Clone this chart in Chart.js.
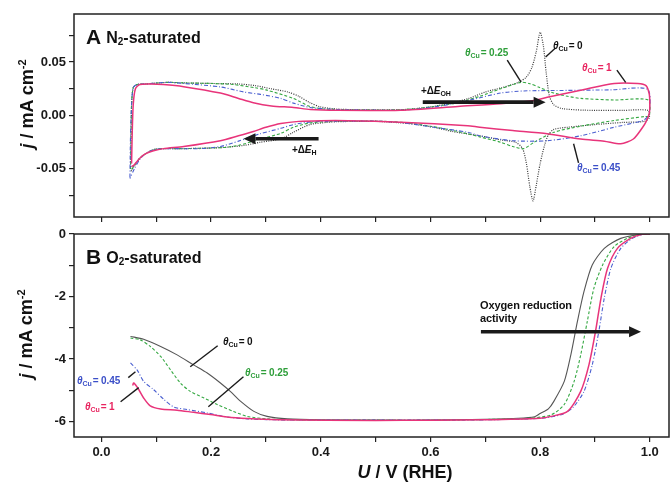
<!DOCTYPE html>
<html>
<head>
<meta charset="utf-8">
<script src="https://cdn.jsdelivr.net/npm/chart.js@4/dist/chart.umd.min.js"></script>
<style>
  html, body { margin: 0; padding: 0; background: #fff; }
  #wrap { position: relative; width: 671px; height: 482px; overflow: hidden; background: #fff; }
  canvas { position: absolute; left: 0; }
  #cvTop { top: 0; }
  #cvBot { top: 220px; }
  .t { position: absolute; white-space: nowrap; line-height: 1; transform: translateY(-50%);
       font-family: "Liberation Sans", Arial, sans-serif; font-weight: bold; color: #111; }
  .lab { font-size: 10px; letter-spacing: -0.1px; }
  .lab i, .ax i { font-style: italic; }
  .lab .s { font-size: 7px; position: relative; top: 2px; margin-right: 1px; }
  .panel { font-size: 16px; }
  .panel .big { font-size: 21px; margin-right: 5px; position: relative; top: 1px; }
  .panel sub { font-size: 10px; vertical-align: -2px; line-height: 0; }
  .ax { font-size: 18px; }
  .ax sup { font-size: 11px; vertical-align: 7px; line-height: 0; }
  .ytitle { transform: translate(-50%, -50%) rotate(-90deg); }
  .xtitle { transform: translate(-50%, -50%); }
  .k { color: #111; }
  .g { color: #2e9e3a; }
  .b { color: #3b4fc8; }
  .p { color: #e8245f; }
</style>
</head>
<body>
<div id="wrap">
  <canvas id="cvTop" width="671" height="232"></canvas>
  <canvas id="cvBot" width="671" height="262"></canvas>

  <!-- panel A -->
  <div class="t panel" style="left:86px; top:35px;"><span class="big">A</span>N<sub>2</sub>-saturated</div>
  <div class="t lab k" style="left:553px; top:46px;"><i>θ</i><span class="s">Cu</span>= 0</div>
  <div class="t lab g" style="left:465px; top:53px;"><i>θ</i><span class="s">Cu</span>= 0.25</div>
  <div class="t lab p" style="left:582px; top:68px;"><i>θ</i><span class="s">Cu</span>= 1</div>
  <div class="t lab b" style="left:577px; top:168px;"><i>θ</i><span class="s">Cu</span>= 0.45</div>
  <div class="t lab k" style="left:421px; top:91px;">+Δ<i>E</i><span class="s">OH</span></div>
  <div class="t lab k" style="left:292px; top:150px;">+Δ<i>E</i><span class="s">H</span></div>

  <!-- panel B -->
  <div class="t panel" style="left:86px; top:255px;"><span class="big">B</span>O<sub>2</sub>-saturated</div>
  <div class="t lab k" style="left:223px; top:342px;"><i>θ</i><span class="s">Cu</span>= 0</div>
  <div class="t lab g" style="left:245px; top:373px;"><i>θ</i><span class="s">Cu</span>= 0.25</div>
  <div class="t lab b" style="left:77px; top:381px;"><i>θ</i><span class="s">Cu</span>= 0.45</div>
  <div class="t lab p" style="left:85px; top:407px;"><i>θ</i><span class="s">Cu</span>= 1</div>
  <div class="t lab k" style="left:480px; top:305px; font-size:11px;">Oxygen reduction</div>
  <div class="t lab k" style="left:480px; top:318px; font-size:11px;">activity</div>

  <!-- axis titles -->
  <div class="t ax ytitle" style="left:27px; top:104px;"><i>j</i> / mA cm<sup>-2</sup></div>
  <div class="t ax ytitle" style="left:26px; top:334px;"><i>j</i> / mA cm<sup>-2</sup></div>
  <div class="t ax xtitle" style="left:405px; top:472px;"><i>U</i> / V (RHE)</div>
</div>

<script>
// ---- Cyclic voltammograms in N2 (potential in V vs RHE, current in mA cm^-2) ----
// each loop: anodic sweep 0.05 -> 1.0 V, then cathodic sweep back to 0.05 V
const cvU_Cu0 = [0.053,0.054,0.055,0.058,0.065,0.08,0.12,0.15,0.2,0.25,0.28,0.31,0.34,0.36,0.38,0.40,0.43,0.5,0.55,0.6,0.64,0.67,0.70,0.73,0.76,0.775,0.785,0.793,0.800,0.806,0.811,0.817,0.825,0.84,0.88,0.95,0.997,
                 0.999,0.99,0.95,0.90,0.85,0.825,0.815,0.808,0.800,0.793,0.787,0.781,0.775,0.768,0.755,0.73,0.69,0.64,0.606,0.56,0.5,0.43,0.41,0.38,0.35,0.327,0.29,0.26,0.22,0.15,0.11,0.095,0.08,0.07,0.06,0.053];
const cvJ_Cu0 = [-0.050,-0.020,0.010,0.026,0.029,0.0295,0.031,0.0305,0.030,0.0295,0.028,0.025,0.022,0.018,0.012,0.008,0.006,0.0052,0.0055,0.008,0.012,0.016,0.022,0.026,0.031,0.036,0.045,0.060,0.078,0.065,0.040,0.018,0.010,0.0065,0.005,0.0048,0.0048,
                 -0.002,-0.0055,-0.0065,-0.0085,-0.011,-0.013,-0.018,-0.028,-0.045,-0.065,-0.080,-0.066,-0.045,-0.031,-0.025,-0.023,-0.019,-0.015,-0.011,-0.0075,-0.0055,-0.0058,-0.0065,-0.0085,-0.0157,-0.022,-0.025,-0.028,-0.030,-0.031,-0.031,-0.032,-0.036,-0.040,-0.047,-0.053];

const cvU_Cu025 = [0.053,0.054,0.055,0.058,0.065,0.08,0.12,0.15,0.2,0.24,0.28,0.30,0.35,0.38,0.41,0.5,0.55,0.6,0.65,0.69,0.728,0.765,0.78,0.80,0.825,0.85,0.874,0.935,0.997,
                   0.999,0.99,0.935,0.874,0.825,0.789,0.77,0.75,0.728,0.69,0.65,0.6,0.55,0.5,0.41,0.38,0.35,0.327,0.29,0.25,0.22,0.15,0.11,0.095,0.08,0.07,0.06,0.053];
const cvJ_Cu025 = [-0.050,-0.020,0.010,0.026,0.029,0.0295,0.031,0.0305,0.030,0.029,0.026,0.024,0.016,0.0085,0.006,0.0052,0.0055,0.008,0.012,0.018,0.025,0.031,0.030,0.026,0.021,0.018,0.016,0.0145,0.0145,
                   -0.0005,-0.001,-0.0047,-0.010,-0.0157,-0.025,-0.031,-0.029,-0.025,-0.020,-0.015,-0.010,-0.0065,-0.0053,-0.0058,-0.007,-0.011,-0.0167,-0.022,-0.028,-0.030,-0.031,-0.031,-0.032,-0.036,-0.040,-0.047,-0.052];

const cvU_Cu045 = [0.052,0.053,0.055,0.058,0.065,0.08,0.12,0.15,0.217,0.26,0.29,0.327,0.35,0.381,0.42,0.5,0.546,0.606,0.668,0.728,0.77,0.85,0.93,0.996,
                   0.999,0.99,0.97,0.935,0.874,0.813,0.75,0.69,0.668,0.606,0.546,0.5,0.41,0.381,0.35,0.327,0.29,0.25,0.217,0.18,0.12,0.095,0.08,0.07,0.06,0.052];
const cvJ_Cu045 = [-0.058,-0.020,0.010,0.026,0.029,0.0295,0.031,0.030,0.0267,0.022,0.0198,0.016,0.0116,0.0075,0.0058,0.005,0.005,0.0078,0.014,0.021,0.023,0.0235,0.024,0.0245,
                   0.002,-0.004,-0.007,-0.011,-0.019,-0.0236,-0.0236,-0.019,-0.0157,-0.011,-0.0066,-0.0053,-0.0055,-0.006,-0.0085,-0.012,-0.017,-0.024,-0.029,-0.031,-0.031,-0.032,-0.036,-0.041,-0.050,-0.059];

const cvU_Cu1 = [0.055,0.056,0.058,0.062,0.07,0.09,0.113,0.15,0.217,0.25,0.277,0.31,0.35,0.381,0.43,0.546,0.65,0.728,0.789,0.813,0.874,0.935,0.978,0.993,0.999,1.0,
                 0.999,0.993,0.987,0.97,0.947,0.917,0.874,0.813,0.75,0.69,0.668,0.546,0.45,0.40,0.36,0.327,0.30,0.277,0.25,0.217,0.15,0.113,0.095,0.08,0.07,0.06,0.055];
const cvJ_Cu1 = [-0.045,-0.020,0.010,0.025,0.029,0.0295,0.029,0.027,0.021,0.016,0.012,0.009,0.0075,0.0056,0.0048,0.005,0.0085,0.011,0.014,0.017,0.0236,0.030,0.030,0.028,0.020,0.010,
                 0.002,-0.006,-0.011,-0.022,-0.0265,-0.024,-0.022,-0.017,-0.014,-0.011,-0.0095,-0.0063,-0.0048,-0.0048,-0.0055,-0.0075,-0.011,-0.015,-0.019,-0.0236,-0.029,-0.031,-0.033,-0.036,-0.040,-0.046,-0.048];

// ---- Polarization curves in O2 (anodic sweep) ----
const lsvU_Cu0 = [0.053,0.077,0.108,0.138,0.168,0.193,0.217,0.235,0.254,0.278,0.302,0.339,0.40,0.5,0.6,0.7,0.76,0.79,0.80,0.815,0.825,0.844,0.856,0.868,0.880,0.895,0.917,0.947,0.984,1.0];
const lsvJ_Cu0 = [-3.28,-3.37,-3.60,-3.87,-4.19,-4.45,-4.77,-5.04,-5.36,-5.68,-5.84,-5.92,-5.95,-5.96,-5.96,-5.93,-5.90,-5.85,-5.75,-5.60,-5.36,-4.72,-3.87,-2.80,-1.84,-0.99,-0.46,-0.14,-0.01,0];

const lsvU_Cu025 = [0.053,0.071,0.089,0.108,0.126,0.144,0.162,0.187,0.211,0.241,0.266,0.302,0.35,0.5,0.6,0.7,0.78,0.82,0.844,0.862,0.874,0.886,0.898,0.914,0.935,0.959,0.984,1.0];
const lsvJ_Cu025 = [-3.33,-3.39,-3.60,-3.92,-4.35,-4.77,-5.04,-5.25,-5.46,-5.68,-5.84,-5.92,-5.95,-5.96,-5.96,-5.94,-5.90,-5.79,-5.46,-4.72,-3.87,-2.80,-1.74,-0.99,-0.40,-0.14,-0.01,0];

const lsvU_Cu045 = [0.053,0.065,0.077,0.095,0.114,0.132,0.156,0.193,0.229,0.266,0.32,0.5,0.6,0.7,0.8,0.84,0.86,0.880,0.895,0.907,0.917,0.929,0.947,0.968,0.988,1.0];
const lsvJ_Cu045 = [-4.13,-4.35,-4.72,-4.98,-5.30,-5.54,-5.62,-5.73,-5.86,-5.92,-5.95,-5.96,-5.96,-5.95,-5.90,-5.78,-5.55,-5.04,-4.19,-3.12,-2.05,-1.10,-0.46,-0.14,-0.01,0];

const lsvU_Cu1 = [0.057,0.059,0.068,0.077,0.089,0.108,0.138,0.168,0.199,0.229,0.266,0.32,0.5,0.6,0.7,0.8,0.82,0.85,0.874,0.889,0.901,0.911,0.923,0.941,0.965,0.986,1.0];
const lsvJ_Cu1 = [-4.85,-4.77,-4.98,-5.25,-5.50,-5.60,-5.64,-5.71,-5.78,-5.86,-5.91,-5.95,-5.97,-5.96,-5.95,-5.90,-5.84,-5.68,-5.04,-4.19,-3.12,-2.05,-1.10,-0.46,-0.14,-0.01,0];

// series names and styles
const seriesNames = ['θCu = 1', 'θCu = 0.45', 'θCu = 0.25', 'θCu = 0'];

const FONT = '"Liberation Sans", Arial, sans-serif';
const INK = '#1a1a1a';

function zip(us, js) { return us.map((u, i) => ({ x: u, y: js[i] })); }

const styles = {
  one:  { borderColor: '#e8347a', borderWidth: 1.5, borderDash: [] },
  c045: { borderColor: '#4a5fd0', borderWidth: 1.1, borderDash: [4, 2, 1, 2] },
  c025: { borderColor: '#35a842', borderWidth: 1.1, borderDash: [3, 2] },
  zero: { borderColor: '#3a3a3a', borderWidth: 1.2, borderDash: [1, 1.3] }
};

function ds(label, data, st, extra) {
  return Object.assign({
    label, data, showLine: true, pointRadius: 0, tension: 0.25, fill: false
  }, st, extra || {});
}

function isMultiple(v, step) { const r = v / step; return Math.abs(r - Math.round(r)) < 1e-6; }

function arrow(ctx, x1, y1, x2, y2) {
  const ang = Math.atan2(y2 - y1, x2 - x1);
  const hl = 12, hw = 5.5;
  const bx = x2 - hl * Math.cos(ang), by = y2 - hl * Math.sin(ang);
  ctx.save();
  ctx.strokeStyle = INK; ctx.fillStyle = INK; ctx.lineWidth = 3.6; ctx.lineCap = 'butt';
  ctx.beginPath(); ctx.moveTo(x1, y1); ctx.lineTo(bx, by); ctx.stroke();
  ctx.beginPath();
  ctx.moveTo(x2, y2);
  ctx.lineTo(bx + hw * Math.sin(ang), by - hw * Math.cos(ang));
  ctx.lineTo(bx - hw * Math.sin(ang), by + hw * Math.cos(ang));
  ctx.closePath(); ctx.fill();
  ctx.restore();
}

// frame, leader lines and arrows, positioned in data coordinates
function decorPlugin(arrows, leaders) {
  return {
    id: 'decor',
    afterDraw(chart) {
      const { ctx, chartArea: a, scales: { x, y } } = chart;
      ctx.save();
      ctx.strokeStyle = '#222'; ctx.lineWidth = 1.5;
      ctx.strokeRect(a.left, a.top, a.right - a.left, a.bottom - a.top);
      ctx.strokeStyle = INK; ctx.lineWidth = 1.4;
      leaders.forEach(l => {
        ctx.beginPath();
        ctx.moveTo(x.getPixelForValue(l[0]), y.getPixelForValue(l[1]));
        ctx.lineTo(x.getPixelForValue(l[2]), y.getPixelForValue(l[3]));
        ctx.stroke();
      });
      ctx.restore();
      arrows.forEach(r => arrow(ctx,
        x.getPixelForValue(r[0]), y.getPixelForValue(r[1]),
        x.getPixelForValue(r[2]), y.getPixelForValue(r[3])));
    }
  };
}

function xScale(showLabels, axisHeight) {
  return {
    type: 'linear', min: -0.05, max: 1.035,
    afterFit(s) { s.height = axisHeight; },
    border: { display: false },
    grid: { drawOnChartArea: false, drawTicks: true, tickLength: 5, tickColor: '#222', lineWidth: 1.2 },
    ticks: {
      stepSize: 0.1, includeBounds: false, autoSkip: false, maxRotation: 0, padding: 3,
      color: INK, font: { family: FONT, size: 13, weight: 'bold' },
      callback: v => (showLabels && isMultiple(v, 0.2)) ? v.toFixed(1) : ''
    }
  };
}

function yScale(min, max, step, labelStep, digits) {
  return {
    type: 'linear', min, max,
    afterFit(s) { s.width = 74; },
    border: { display: false },
    grid: { drawOnChartArea: false, drawTicks: true, tickLength: 5, tickColor: '#222', lineWidth: 1.2 },
    ticks: {
      stepSize: step, includeBounds: false, autoSkip: false, padding: 3,
      color: INK, font: { family: FONT, size: 13, weight: 'bold' },
      callback: v => {
        if (!isMultiple(v, labelStep)) return '';
        const t = (Math.abs(v) < 1e-9 ? 0 : v).toFixed(digits);
        return t;
      }
    }
  };
}

const common = {
  responsive: false, animation: false, devicePixelRatio: 1,
  plugins: { legend: { display: false }, tooltip: { enabled: false } },
  elements: { line: { capBezierPoints: true } }
};

// Panel A: cyclic voltammograms
new Chart(document.getElementById('cvTop'), {
  type: 'scatter',
  data: {
    datasets: [
      ds(seriesNames[0], zip(cvU_Cu1, cvJ_Cu1), styles.one),
      ds(seriesNames[1], zip(cvU_Cu045, cvJ_Cu045), styles.c045),
      ds(seriesNames[2], zip(cvU_Cu025, cvJ_Cu025), styles.c025),
      ds(seriesNames[3], zip(cvU_Cu0, cvJ_Cu0), styles.zero)
    ]
  },
  options: Object.assign({}, common, {
    layout: { padding: { top: 14, right: 2, left: 0, bottom: 0 } },
    scales: {
      x: xScale(false, 15),
      y: yScale(-0.095, 0.095, 0.025, 0.05, 2)
    }
  }),
  plugins: [decorPlugin(
    [[0.586, 0.0125, 0.810, 0.0125], [0.396, -0.0217, 0.259, -0.0217]],
    [[0.828, 0.0632, 0.810, 0.0547], [0.740, 0.0519, 0.765, 0.0314],
     [0.940, 0.0424, 0.956, 0.031], [0.870, -0.0443, 0.861, -0.0264]]
  )]
});

// Panel B: oxygen reduction polarization curves
new Chart(document.getElementById('cvBot'), {
  type: 'scatter',
  data: {
    datasets: [
      ds(seriesNames[0], zip(lsvU_Cu1, lsvJ_Cu1), styles.one),
      ds(seriesNames[1], zip(lsvU_Cu045, lsvJ_Cu045), styles.c045),
      ds(seriesNames[2], zip(lsvU_Cu025, lsvJ_Cu025), styles.c025),
      ds(seriesNames[3], zip(lsvU_Cu0, lsvJ_Cu0), { borderColor: '#555', borderWidth: 1.1, borderDash: [] })
    ]
  },
  options: Object.assign({}, common, {
    layout: { padding: { top: 14, right: 2, left: 0, bottom: 0 } },
    scales: {
      x: xScale(true, 45),
      y: yScale(-6.5, 0, 1, 2, 0)
    }
  }),
  plugins: [decorPlugin(
    [[0.692, -3.13, 0.984, -3.13]],
    [[0.212, -3.58, 0.162, -4.25], [0.259, -4.57, 0.195, -5.53],
     [0.049, -4.60, 0.062, -4.41], [0.035, -5.37, 0.068, -4.92]]
  )]
});
</script>
</body>
</html>
